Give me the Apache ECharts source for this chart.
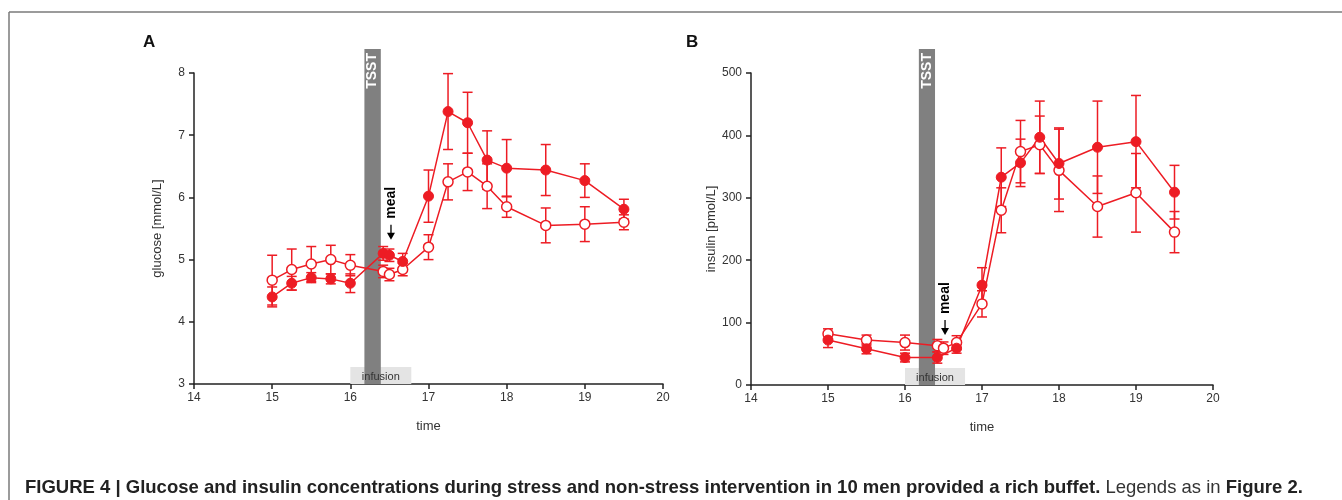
<!DOCTYPE html>
<html>
<head>
<meta charset="utf-8">
<title>Figure 4</title>
<script src="https://cdn.jsdelivr.net/npm/echarts/dist/echarts.min.js"></script>
<style>
  html, body { margin: 0; padding: 0; background: #fff; }
  #chart { width: 1342px; height: 500px; }
</style>
</head>
<body>
<div id="chart"></div>
<script>
    var RED = '#ed1c24';
    var FONT = '"Liberation Sans", Arial, sans-serif';

    // panel A: glucose
    var timesA = [15, 15.25, 15.5, 15.75, 16, 16.42, 16.5, 16.67, 17, 17.25, 17.5, 17.75, 18, 18.5, 19, 19.5];
    var glucoseStress = [4.40, 4.62, 4.71, 4.69, 4.62, 5.10, 5.07, 4.97, 6.02, 7.38, 7.20, 6.60, 6.47, 6.44, 6.27, 5.81];
    var glucoseStressErr = [0.16, 0.11, 0.08, 0.08, 0.15, 0.11, 0.10, 0.13, 0.42, 0.61, 0.49, 0.47, 0.46, 0.41, 0.27, 0.16];
    var glucoseControl = [4.67, 4.84, 4.93, 5.00, 4.91, 4.81, 4.76, 4.84, 5.20, 6.25, 6.41, 6.18, 5.85, 5.55, 5.57, 5.60];
    var glucoseControlErr = [0.40, 0.33, 0.28, 0.23, 0.17, 0.10, 0.10, 0.10, 0.20, 0.29, 0.30, 0.36, 0.17, 0.28, 0.28, 0.12];

    // panel B: insulin
    var timesB = [15, 15.5, 16, 16.42, 16.5, 16.67, 17, 17.25, 17.5, 17.75, 18, 18.5, 19, 19.5];
    var insulinStress = [72, 58, 44, 44, null, 59, 160, 333, 356, 397, 355, 381, 390, 309];
    var insulinStressErr = [12, 8, 7, 9, null, 8, 28, 47, 38, 58, 57, 74, 74, 43];
    var insulinControl = [82, 72, 68, 63, 59, 68, 130, 280, 374, 385, 344, 286, 308, 245];
    var insulinControlErr = [8, 8, 12, 10, 10, 11, 21, 36, 50, 46, 66, 49, 63, 33];

    // annotations (time in hours)
    var tsstSpan = [16.18, 16.39];
    var infusionSpan = [16.0, 16.78];
    var mealTime = 16.52;
    var mealTipA = 5.32;
    var mealTipB = 80;

    var glucoseTicks = {min: 3, max: 8, interval: 1};
    var insulinTicks = {min: 0, max: 500, interval: 100};

    function points(xs, ys) {
        return xs.map(function (x, i) { return ys[i] == null ? null : [x, ys[i]]; })
            .filter(function (d) { return d; });
    }
    function errPoints(xs, ys, es) {
        return xs.map(function (x, i) { return ys[i] == null ? null : [x, ys[i], es[i]]; })
            .filter(function (d) { return d; });
    }

    function errorItem(params, api) {
        var x = api.value(0), y = api.value(1), e = api.value(2);
        var top = api.coord([x, y + e]);
        var bot = api.coord([x, y - e]);
        var w = 5;
        var st = {stroke: RED, lineWidth: 1.5};
        return {
            type: 'group',
            children: [
                {type: 'line', shape: {x1: top[0], y1: top[1], x2: bot[0], y2: bot[1]}, style: st},
                {type: 'line', shape: {x1: top[0] - w, y1: top[1], x2: top[0] + w, y2: top[1]}, style: st},
                {type: 'line', shape: {x1: bot[0] - w, y1: bot[1], x2: bot[0] + w, y2: bot[1]}, style: st}
            ]
        };
    }

    // infusion box, TSST bar, meal arrow for one panel
    function annotationItem(yMin, yMax) {
        return function (params, api) {
            var inf0 = api.coord([api.value(2), yMin]);
            var inf1 = api.coord([api.value(3), yMin]);
            var ts0 = api.coord([api.value(0), yMin]);
            var ts1 = api.coord([api.value(1), yMax]);
            var tip = api.coord([api.value(4), api.value(5)]);
            var barTop = ts1[1] - 24;
            var boxH = 17;
            return {
                type: 'group',
                children: [
                    {type: 'rect', shape: {x: inf0[0], y: inf0[1] - boxH, width: inf1[0] - inf0[0], height: boxH},
                        style: {fill: '#e4e4e4'}},
                    {type: 'rect', shape: {x: ts0[0], y: barTop, width: ts1[0] - ts0[0], height: ts0[1] - barTop},
                        style: {fill: '#808080'}},
                    {type: 'text', x: (inf0[0] + inf1[0]) / 2, y: inf0[1] - boxH / 2 + 1,
                        style: {text: 'infusion', fill: '#333', font: '11px ' + FONT, align: 'center', verticalAlign: 'middle'}},
                    {type: 'text', x: (ts0[0] + ts1[0]) / 2, y: barTop + 4, rotation: Math.PI / 2,
                        style: {text: 'TSST', fill: '#fff', font: 'bold 14px ' + FONT, align: 'right', verticalAlign: 'middle'}},
                    {type: 'line', shape: {x1: tip[0], y1: tip[1] - 15, x2: tip[0], y2: tip[1] - 6},
                        style: {stroke: '#000', lineWidth: 1.3}},
                    {type: 'polygon', shape: {points: [[tip[0] - 4, tip[1] - 7], [tip[0] + 4, tip[1] - 7], [tip[0], tip[1]]]},
                        style: {fill: '#000'}},
                    {type: 'text', x: tip[0], y: tip[1] - 21, rotation: Math.PI / 2,
                        style: {text: 'meal', fill: '#000', font: 'bold 14px ' + FONT, align: 'left', verticalAlign: 'middle'}}
                ]
            };
        };
    }

    function xAxisCfg(gi) {
        return {
            type: 'value', gridIndex: gi, min: 14, max: 20, interval: 1,
            name: 'time', nameLocation: 'middle', nameGap: 36,
            nameTextStyle: {color: '#333', fontSize: 13, fontFamily: FONT},
            axisLine: {lineStyle: {color: '#222', width: 1.5}},
            axisTick: {length: 5, lineStyle: {color: '#222', width: 1.5}},
            axisLabel: {color: '#333', fontSize: 12, fontFamily: FONT, margin: 8},
            splitLine: {show: false}
        };
    }
    function yAxisCfg(gi, name, ticks) {
        return {
            type: 'value', gridIndex: gi, min: ticks.min, max: ticks.max, interval: ticks.interval,
            name: name, nameLocation: 'middle', nameGap: 30,
            nameTextStyle: {color: '#333', fontSize: 13, fontFamily: FONT},
            axisLine: {show: true, lineStyle: {color: '#222', width: 1.5}},
            axisTick: {show: true, length: 5, lineStyle: {color: '#222', width: 1.5}},
            axisLabel: {color: '#333', fontSize: 12, fontFamily: FONT, margin: 9},
            splitLine: {show: false}
        };
    }

    function lineSeries(gi, data, open) {
        return {
            type: 'line', xAxisIndex: gi, yAxisIndex: gi, data: data,
            symbol: 'circle', symbolSize: 10, z: 5,
            lineStyle: {color: RED, width: 1.5},
            itemStyle: open ? {color: '#fff', borderColor: RED, borderWidth: 1.5} : {color: RED, borderColor: RED, borderWidth: 1},
            animation: false
        };
    }
    function errSeries(gi, data) {
        return {
            type: 'custom', xAxisIndex: gi, yAxisIndex: gi, data: data, z: 4,
            renderItem: errorItem, animation: false
        };
    }
    function annSeries(gi, ticks, mealTip) {
        return {
            type: 'custom', xAxisIndex: gi, yAxisIndex: gi, clip: false, z: 3, silent: true,
            data: [[tsstSpan[0], tsstSpan[1], infusionSpan[0], infusionSpan[1], mealTime, mealTip]],
            renderItem: annotationItem(ticks.min, ticks.max), animation: false
        };
    }

    var chart = echarts.init(document.getElementById('chart'));
    chart.setOption({
        backgroundColor: '#fff',
        animation: false,
        textStyle: {fontFamily: FONT},
        grid: [
            {left: 194, top: 73, width: 469, height: 311},
            {left: 751, top: 73, width: 462, height: 312}
        ],
        xAxis: [xAxisCfg(0), xAxisCfg(1)],
        yAxis: [yAxisCfg(0, 'glucose [mmol/L]', glucoseTicks), yAxisCfg(1, 'insulin [pmol/L]', insulinTicks)],
        graphic: [
            {type: 'line', shape: {x1: 9, y1: 12, x2: 1342, y2: 12}, style: {stroke: '#7a7a7a', lineWidth: 1.5}},
            {type: 'line', shape: {x1: 9, y1: 12, x2: 9, y2: 500}, style: {stroke: '#7a7a7a', lineWidth: 1.5}},
            {type: 'text', left: 143, top: 34, style: {text: 'A', font: 'bold 17px ' + FONT, fill: '#111'}},
            {type: 'text', left: 686, top: 34, style: {text: 'B', font: 'bold 17px ' + FONT, fill: '#111'}},
            {
                type: 'text', left: 25, top: 478,
                style: {
                    text: '{b|FIGURE 4 | Glucose and insulin concentrations during stress and non-stress intervention in 10 men provided a rich buffet.}{n| Legends as in }{b|Figure 2.}',
                    rich: {
                        b: {font: 'bold 18.5px "Liberation Sans Narrow", ' + FONT, fill: '#222'},
                        n: {font: '18.5px "Liberation Sans Narrow", ' + FONT, fill: '#333'}
                    }
                }
            }
        ],
        series: [
            annSeries(0, glucoseTicks, mealTipA),
            errSeries(0, errPoints(timesA, glucoseControl, glucoseControlErr)),
            errSeries(0, errPoints(timesA, glucoseStress, glucoseStressErr)),
            lineSeries(0, points(timesA, glucoseControl), true),
            lineSeries(0, points(timesA, glucoseStress), false),
            annSeries(1, insulinTicks, mealTipB),
            errSeries(1, errPoints(timesB, insulinControl, insulinControlErr)),
            errSeries(1, errPoints(timesB, insulinStress, insulinStressErr)),
            lineSeries(1, points(timesB, insulinControl), true),
            lineSeries(1, points(timesB, insulinStress), false)
        ]
    });
</script>
</body>
</html>
